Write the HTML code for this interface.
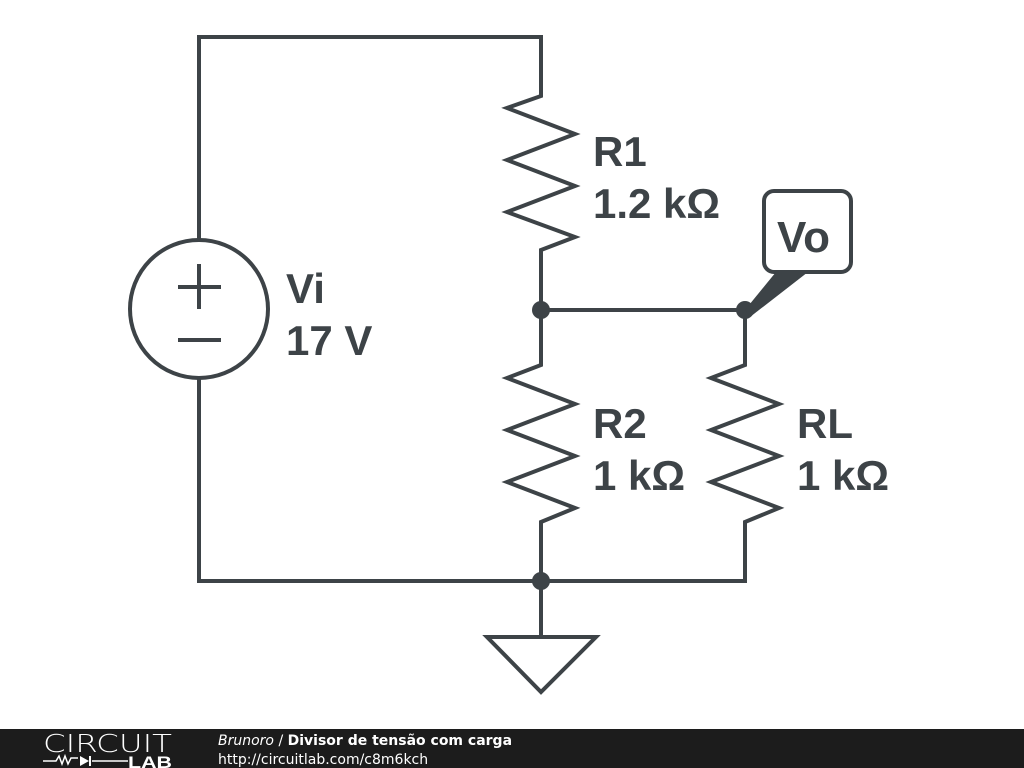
<!DOCTYPE html>
<html><head><meta charset="utf-8"><style>
html,body{margin:0;padding:0;background:#fff;width:1024px;height:768px;overflow:hidden}
</style></head><body>
<svg width="1024" height="768" viewBox="0 0 1024 768" xmlns="http://www.w3.org/2000/svg">
<g fill="none" stroke="#3d4347" stroke-width="4" stroke-linejoin="miter">
<path d="M199 240 V37 H541 V96 L507 108 L575 134 L507 160 L575 186 L507 212 L575 237 L541 250 V365 L507 378 L575 404 L507 430 L575 456 L507 482 L575 508 L541 522 V637"/>
<path d="M745 310 V365 L711 378 L779 404 L711 430 L779 456 L711 482 L779 508 L745 522 V581 H199 V378"/>
<path d="M541 310 H745"/>
<circle cx="199" cy="309" r="69"/>
<path d="M178 287 H221 M199 264 V309 M178 340 H221"/>
<path d="M487 637 H596 L541 692 Z"/>
<rect x="764" y="191" width="87" height="81" rx="10"/>
</g>
<g fill="#3d4347">
<circle cx="541" cy="310" r="9"/>
<circle cx="541" cy="581" r="9"/>
<circle cx="745" cy="310" r="9"/>
<polygon points="745,310 776,272 808,272 750,317"/>
</g>
<g font-family="Liberation Sans, sans-serif" font-weight="bold" font-size="42" fill="#3d4347">
<text x="286" y="303">Vi</text>
<text x="286" y="355">17 V</text>
<text x="593" y="166">R1</text>
<text x="593" y="218">1.2 kΩ</text>
<text x="593" y="438">R2</text>
<text x="593" y="490">1 kΩ</text>
<text x="797" y="438">RL</text>
<text x="797" y="490">1 kΩ</text>
<text x="777" y="252" font-size="44">Vo</text>
</g>
<rect x="0" y="729" width="1024" height="39" fill="#1c1c1c"/>
<text x="43" y="752" font-family="DejaVu Sans, sans-serif" font-size="25" fill="#fff" font-weight="300" textLength="129" lengthAdjust="spacingAndGlyphs">CIRCUIT</text>
<path d="M43 761 H56 L59 756 L62 764 L65 756 L68 764 L71 758 H78 M92 761 H128" stroke="#fff" stroke-width="1.5" fill="none"/>
<polygon points="80,756 80,766 89,761" fill="#fff"/>
<rect x="89" y="756" width="2" height="10" fill="#fff"/>
<text x="128" y="768" font-family="Liberation Sans, sans-serif" font-weight="bold" font-size="17" fill="#fff" textLength="44" lengthAdjust="spacingAndGlyphs">LAB</text>
<text x="218" y="745" font-family="DejaVu Sans, sans-serif" font-size="14" fill="#fff"><tspan font-style="italic">Brunoro</tspan> / <tspan font-weight="bold">Divisor de tensão com carga</tspan></text>
<text x="218" y="764" font-family="DejaVu Sans, sans-serif" font-size="14" fill="#fff">http://circuitlab.com/c8m6kch</text>
</svg>
</body></html>
